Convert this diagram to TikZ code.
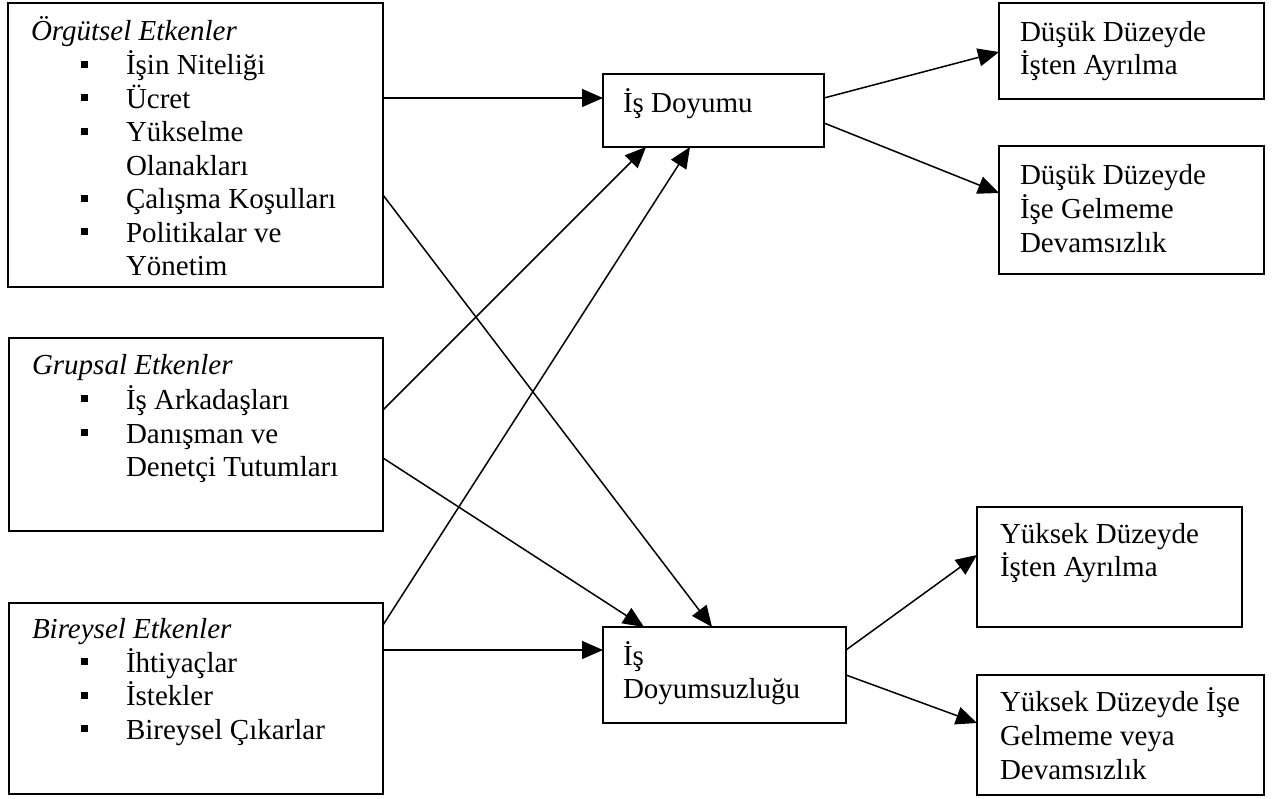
\documentclass[tikz,border=0pt]{standalone}
\usepackage{fontspec}
\setmainfont{Liberation Serif}
\usetikzlibrary{arrows.meta,calc}
\begin{document}
\begin{tikzpicture}[x=1pt,y=-1pt,
  box/.style={draw, line width=1.5pt, rectangle, inner sep=0pt, outer sep=0pt, anchor=north west},
  txt/.style={anchor=base west, inner sep=0pt, outer sep=0pt, font=\fontsize{29}{33.5}\selectfont},
  ttl/.style={txt, font=\fontsize{29}{33.5}\selectfont\itshape},
  conn/.style={line width=1.5pt, -{Triangle[length=21pt,width=18pt]}},
]
\useasboundingbox (0,0) rectangle (1280,799);

% --- factor boxes (left column) ---
\node[box, minimum width=375pt, minimum height=284pt] (A) at (8,3) {};
\node[box, minimum width=374pt, minimum height=193pt] (B) at (9,338) {};
\node[box, minimum width=374pt, minimum height=191pt] (C) at (9,603) {};

% --- outcome boxes (middle column) ---
\node[box, minimum width=221pt, minimum height=73pt] (D1) at (603,74) {};
\node[box, minimum width=243pt, minimum height=96pt] (D2) at (603,627) {};

% --- consequence boxes (right column) ---
\node[box, minimum width=265pt, minimum height=96pt] (R1) at (999,3) {};
\node[box, minimum width=265pt, minimum height=128pt] (R2) at (999,146) {};
\node[box, minimum width=265pt, minimum height=120pt] (R3) at (977,507) {};
\node[box, minimum width=287pt, minimum height=120pt] (R4) at (977,675) {};

% bullet square to the left of an item, given the item's baseline
\newcommand\itemsq[1]{\fill ({81},{#1-14}) rectangle ++(7,7);}

% Örgütsel etkenler
\node[ttl] (A0) at (31,41) {Örgütsel Etkenler};
\node[txt] (A1) at (126,75) {İşin Niteliği};      \itemsq{75}
\node[txt] (A2) at (126,108.5) {Ücret};            \itemsq{108.5}
\node[txt] (A3) at (126,142) {Yükselme};           \itemsq{142}
\node[txt] (A4) at (126,175.5) {Olanakları};
\node[txt] (A5) at (126,209) {Çalışma Koşulları};  \itemsq{209}
\node[txt] (A6) at (126,242.5) {Politikalar ve};   \itemsq{242.5}
\node[txt] (A7) at (126,276) {Yönetim};

% Grupsal etkenler
\node[ttl] (B0) at (32,375) {Grupsal Etkenler};
\node[txt] (B1) at (126,409.5) {İş Arkadaşları};   \itemsq{409.5}
\node[txt] (B2) at (126,443) {Danışman ve};        \itemsq{443}
\node[txt] (B3) at (126,476.5) {Denetçi Tutumları};

% Bireysel etkenler
\node[ttl] (C0) at (32,638) {Bireysel Etkenler};
\node[txt] (C1) at (126,672) {İhtiyaçlar};         \itemsq{672}
\node[txt] (C2) at (126,705.5) {İstekler};         \itemsq{705.5}
\node[txt] (C3) at (126,739) {Bireysel Çıkarlar};  \itemsq{739}

% middle texts
\node[txt] (D1t) at (623,113) {İş Doyumu};
\node[txt] (D2a) at (623,665) {İş};
\node[txt] (D2b) at (623,698.5) {Doyumsuzluğu};

% right texts
\node[txt] (R1a) at (1020,42) {Düşük Düzeyde};
\node[txt] (R1b) at (1020,75) {İşten Ayrılma};
\node[txt] (R2a) at (1020,185) {Düşük Düzeyde};
\node[txt] (R2b) at (1020,219) {İşe Gelmeme};
\node[txt] (R2c) at (1020,253) {Devamsızlık};
\node[txt] (R3a) at (1000,543) {Yüksek Düzeyde};
\node[txt] (R3b) at (1000,576.5) {İşten Ayrılma};
\node[txt] (R4a) at (1000,711) {Yüksek Düzeyde İşe};
\node[txt] (R4b) at (1000,745) {Gelmeme veya};
\node[txt] (R4c) at (1000,779) {Devamsızlık};

% --- connectors ---
\draw[conn] ($(A.north east)+(0,95)$)  -- ($(D1.north west)+(0,24)$);
\draw[conn] ($(A.north east)+(0,192)$) -- ($(D2.north west)+(109,0)$);
\draw[conn] ($(B.north east)+(0,72)$)  -- ($(D1.south west)+(43,0)$);
\draw[conn] ($(B.north east)+(0,120)$) -- ($(D2.north west)+(41,0)$);
\draw[conn] ($(C.north east)+(0,22)$)  -- ($(D1.south west)+(87,0)$);
\draw[conn] ($(C.north east)+(0,47)$)  -- ($(D2.north west)+(0,23)$);

\draw[conn] ($(D1.north east)+(0,24)$) -- ($(R1.north west)+(0,49)$);
\draw[conn] ($(D1.north east)+(0,49)$) -- ($(R2.north west)+(0,47)$);
\draw[conn] ($(D2.north east)+(0,23)$) -- ($(R3.north west)+(0,48)$);
\draw[conn] ($(D2.north east)+(0,48)$) -- ($(R4.north west)+(0,48)$);
\end{tikzpicture}
\end{document}
